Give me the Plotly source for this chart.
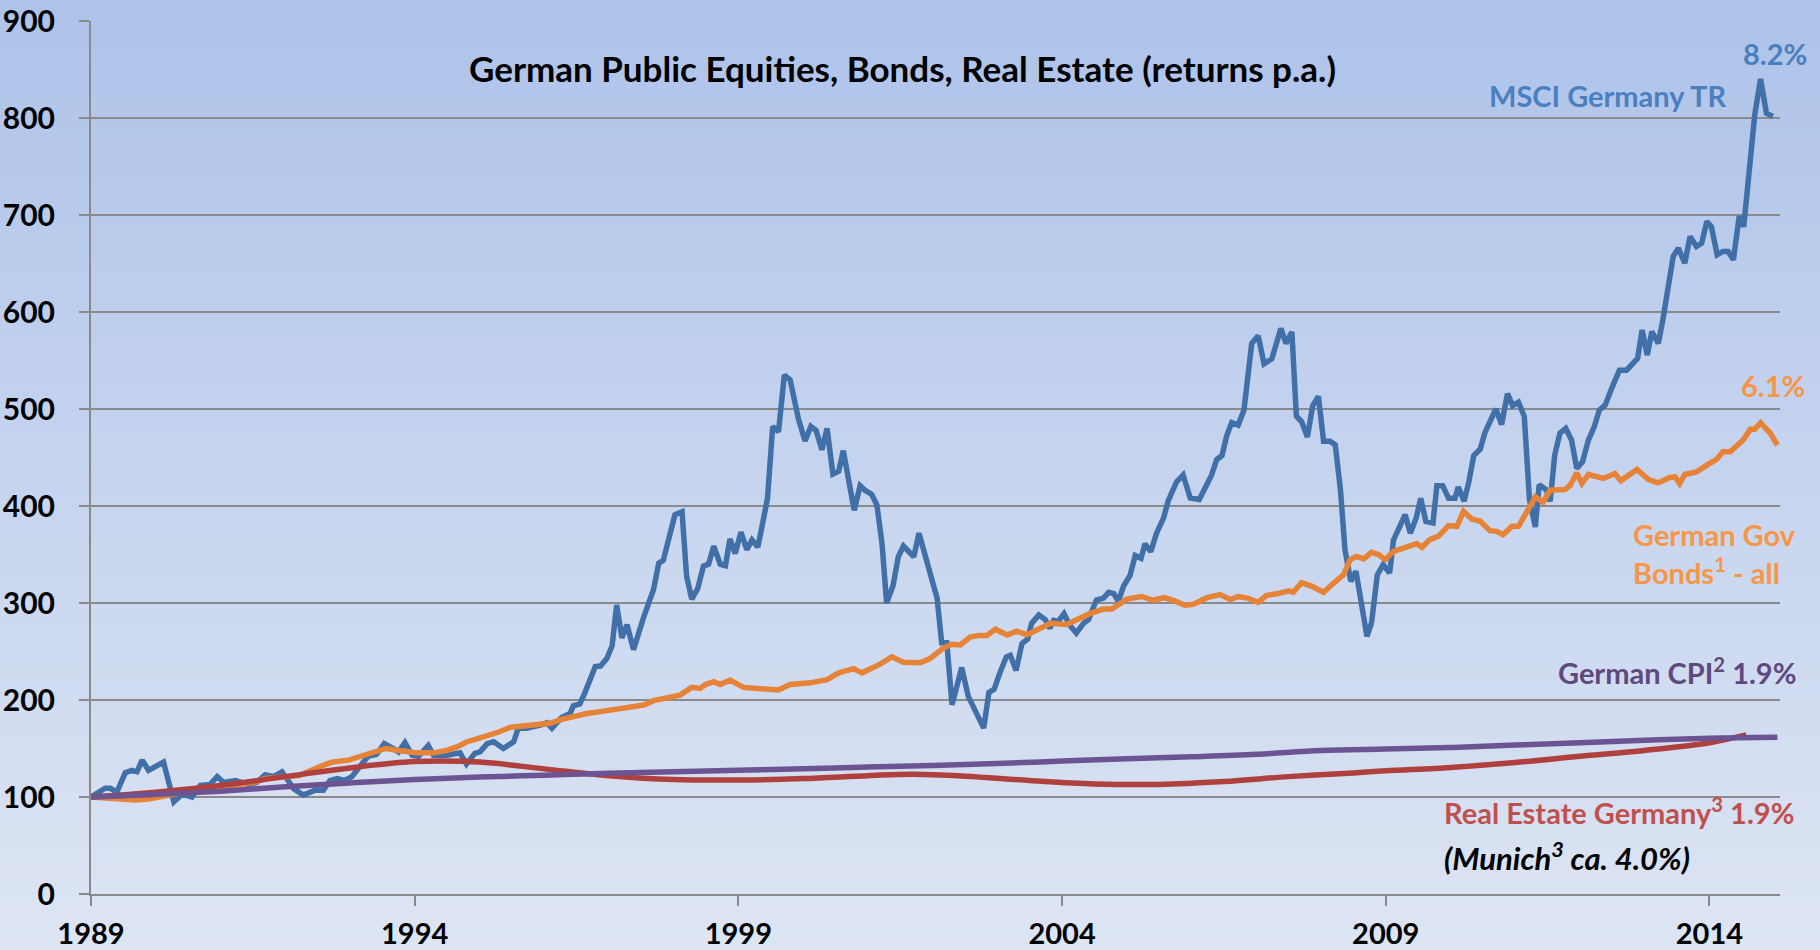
import plotly.graph_objects as go

# ---------------- data ----------------
msci_x = [1989.0, 1989.22, 1989.3, 1989.4, 1989.53, 1989.63, 1989.71, 1989.79, 1989.89, 1990.12,
          1990.28, 1990.41, 1990.56, 1990.69, 1990.84, 1990.95, 1991.05, 1991.23, 1991.43, 1991.56,
          1991.69, 1991.82, 1991.95, 1992.05, 1992.13, 1992.28, 1992.46, 1992.59, 1992.69, 1992.8,
          1992.92, 1993.03, 1993.16, 1993.28, 1993.41, 1993.53, 1993.67, 1993.75, 1993.85, 1993.96,
          1994.06, 1994.21, 1994.29, 1994.5, 1994.7, 1994.8, 1994.93, 1995.01, 1995.12, 1995.22,
          1995.37, 1995.53, 1995.6, 1995.73, 1995.94, 1996.04, 1996.12, 1996.27, 1996.4, 1996.45,
          1996.55, 1996.63, 1996.79, 1996.87, 1996.97, 1997.05, 1997.12, 1997.2, 1997.28, 1997.38,
          1997.54, 1997.61, 1997.69, 1997.77, 1997.84, 1998.02, 1998.13, 1998.2, 1998.28, 1998.37,
          1998.46, 1998.54, 1998.62, 1998.72, 1998.8, 1998.87, 1998.95, 1999.04, 1999.13, 1999.21,
          1999.3, 1999.36, 1999.45, 1999.53, 1999.62, 1999.71, 1999.8, 1999.93, 2000.03, 2000.12,
          2000.2, 2000.29, 2000.37, 2000.46, 2000.55, 2000.62, 2000.7, 2000.79, 2000.88, 2000.96,
          2001.06, 2001.14, 2001.22, 2001.29, 2001.39, 2001.47, 2001.55, 2001.71, 2001.79, 2001.86,
          2001.96, 2002.07, 2002.14, 2002.22, 2002.3, 2002.37, 2002.45, 2002.55, 2002.63, 2002.71,
          2002.79, 2002.87, 2002.95, 2003.04, 2003.14, 2003.2, 2003.29, 2003.38, 2003.47, 2003.53,
          2003.64, 2003.74, 2003.81, 2003.87, 2003.94, 2004.03, 2004.12, 2004.22, 2004.33, 2004.41,
          2004.53, 2004.64, 2004.72, 2004.8, 2004.87, 2004.95, 2005.05, 2005.13, 2005.22, 2005.28,
          2005.37, 2005.46, 2005.57, 2005.64, 2005.77, 2005.87, 2005.98, 2006.12, 2006.18, 2006.31,
          2006.39, 2006.47, 2006.54, 2006.62, 2006.72, 2006.81, 2006.93, 2007.03, 2007.12, 2007.24,
          2007.38, 2007.46, 2007.55, 2007.62, 2007.7, 2007.79, 2007.87, 2007.96, 2008.04, 2008.14,
          2008.22, 2008.3, 2008.37, 2008.46, 2008.54, 2008.63, 2008.71, 2008.78, 2008.87, 2008.96,
          2009.06, 2009.12, 2009.2, 2009.3, 2009.38, 2009.47, 2009.54, 2009.62, 2009.73, 2009.79,
          2009.88, 2009.97, 2010.07, 2010.12, 2010.21, 2010.28, 2010.36, 2010.46, 2010.53, 2010.61,
          2010.7, 2010.79, 2010.88, 2010.96, 2011.05, 2011.14, 2011.22, 2011.31, 2011.37, 2011.48,
          2011.54, 2011.61, 2011.69, 2011.78, 2011.87, 2011.95, 2012.04, 2012.13, 2012.22, 2012.3,
          2012.39, 2012.49, 2012.61, 2012.72, 2012.82, 2012.89, 2012.96, 2013.04, 2013.11, 2013.21,
          2013.28, 2013.35, 2013.44, 2013.52, 2013.62, 2013.7, 2013.8, 2013.88, 2013.96, 2014.03,
          2014.12, 2014.21, 2014.29, 2014.37, 2014.46, 2014.53, 2014.62, 2014.7, 2014.79, 2014.88,
          2014.98]
msci_y = [100, 109, 109, 105, 125, 127.5, 126, 138, 127.5, 136,
          95, 103, 100, 112, 113, 121, 115, 117, 113, 115,
          123, 121, 126, 117, 108.6, 102, 107, 107, 117, 119,
          117, 121, 133, 142, 144, 155, 150, 146.5, 156, 143,
          142, 153, 143, 143, 145.5, 134, 145, 146.5, 155, 157,
          150, 157, 171, 171, 174, 176.5, 171, 182, 186, 194,
          196, 207.6, 234.5, 235, 243, 256, 298, 264, 277.6, 252,
          286, 298, 314, 341, 344, 391, 394, 328, 304, 314.5,
          338, 340, 358.7, 340, 338.4, 366, 351, 373, 355, 365,
          357.6, 377, 408, 482, 476.5, 535, 530, 489, 467, 482,
          478, 458, 480, 433, 436, 457, 427, 395.5, 421, 416,
          412, 401, 360.5, 300, 318, 347.6, 358.7, 347.6, 372, 355,
          335, 305, 259, 259, 195, 215, 233.5, 204, 193, 180,
          171, 207.7, 211, 228, 244.5, 246, 230.5, 258, 263, 279,
          287.7, 283, 274, 282, 281, 289, 277, 269, 279, 283,
          303, 305, 311, 309.6, 301.6, 317.4, 328.5, 349, 346, 361,
          353, 372, 388, 405.5, 425, 432, 408.3, 406.7, 415.4, 432,
          448, 452, 471.5, 486, 483.4, 499, 567.6, 575.5, 546.6, 551.8,
          583, 567.6, 579.5, 492.5, 487, 471, 503, 513, 466.7, 466.7,
          463, 417, 355, 322.3, 332.7, 296.6, 265.6, 279.4, 329, 339.5,
          331, 365, 375.6, 391, 372, 387.6, 408, 384, 382.5, 421,
          421, 408, 408, 419.6, 405, 423.7, 452, 458.8, 475.3, 485.6,
          500, 484, 515.8, 503.4, 507, 492.5, 406.5, 378.3, 422, 416.8,
          404.8, 452.5, 475, 480, 468, 438.7, 445.6, 468, 481.7, 499,
          504, 521.3, 540, 540, 547, 552.2, 581.5, 555.6, 579.8, 567.7,
          591.8, 622.8, 657.2, 665.8, 650.3, 677.8, 667.5, 671, 693.3, 688,
          659, 662.4, 662.4, 653.7, 698.5, 688, 750, 803.4, 840.3, 805,
          801.7]

bonds_x = [1989.0, 1989.3, 1989.68, 1989.89, 1990.2, 1990.46, 1990.97, 1991.23, 1991.54, 1991.69,
           1992.0, 1992.21, 1992.52, 1992.72, 1992.98, 1993.29, 1993.55, 1993.78, 1994.03, 1994.29,
           1994.5, 1994.65, 1994.81, 1994.96, 1995.12, 1995.3, 1995.48, 1995.63, 1995.84, 1996.09,
           1996.27, 1996.45, 1996.66, 1996.87, 1997.07, 1997.33, 1997.54, 1997.69, 1997.9, 1998.1,
           1998.28, 1998.41, 1998.49, 1998.62, 1998.72, 1998.87, 1999.08, 1999.34, 1999.62, 1999.8,
           2000.11, 2000.37, 2000.55, 2000.78, 2000.91, 2001.19, 2001.37, 2001.55, 2001.81, 2001.96,
           2002.17, 2002.3, 2002.43, 2002.58, 2002.71, 2002.84, 2002.97, 2003.15, 2003.3, 2003.46,
           2003.66, 2003.82, 2004.07, 2004.23, 2004.43, 2004.64, 2004.77, 2005.0, 2005.23, 2005.41,
           2005.57, 2005.72, 2005.9, 2006.03, 2006.24, 2006.44, 2006.6, 2006.72, 2006.88, 2007.03,
           2007.16, 2007.32, 2007.5, 2007.57, 2007.7, 2007.86, 2008.04, 2008.17, 2008.35, 2008.45,
           2008.55, 2008.66, 2008.78, 2008.89, 2008.99, 2009.12, 2009.32, 2009.48, 2009.56, 2009.68,
           2009.81, 2009.97, 2010.1, 2010.2, 2010.33, 2010.46, 2010.61, 2010.71, 2010.81, 2010.95,
           2011.05, 2011.18, 2011.31, 2011.43, 2011.54, 2011.77, 2011.85, 2011.95, 2012.03, 2012.13,
           2012.36, 2012.54, 2012.63, 2012.88, 2013.06, 2013.21, 2013.39, 2013.47, 2013.54, 2013.62,
           2013.8, 2013.96, 2014.11, 2014.21, 2014.32, 2014.52, 2014.63, 2014.7, 2014.79, 2014.94,
           2015.05]
bonds_y = [100, 99, 97, 98, 102, 105, 110, 113, 115.5, 119,
           120.6, 122, 131, 136, 138, 144.7, 150, 147.6, 145.5, 145.5,
           148, 151.7, 157, 160, 162.8, 167, 172, 173, 174, 176,
           180, 183.4, 186, 188, 190.3, 192.4, 194.8, 199.3, 201.7, 205,
           213, 212, 216, 218.8, 216, 220.6, 213, 212, 210.3, 216,
           217.7, 221, 228, 232.4, 228, 237, 244.5, 239, 238.3, 242.7,
           253.8, 257.4, 256.7, 264.8, 266.6, 266.6, 273, 267, 271, 267.2,
           274, 279, 277.9, 283, 289, 293.7, 293.7, 304, 306.7, 302.8,
           305.5, 302.8, 297.6, 298.8, 305.5, 308.7, 303.6, 306.7, 304.8, 300.8,
           307.9, 309.5, 312.6, 311, 321, 317.2, 311, 319, 329.2, 344.7,
           348, 345.4, 352.2, 349.8, 344.7, 353.3, 357.4, 361.2, 357.4, 365.3,
           368.7, 379.7, 379, 394.5, 386.6, 384.2, 374.6, 373.9, 370.4, 379,
           379, 395.5, 409.3, 403.8, 416.2, 417, 421.5, 434.2, 423.2, 432.5,
           428.4, 433.5, 426, 437.6, 427.3, 423.9, 429.4, 430, 423.2, 432.5,
           435.2, 442.1, 448, 455.9, 455.9, 468, 479, 479, 485.8, 475,
           462.8]

cpi_x = [1989, 1990, 1991, 1992, 1993, 1994, 1995, 1996, 1997, 1998, 1999, 2000, 2001, 2002,
         2003, 2004, 2005, 2006, 2007, 2008, 2009, 2010, 2011, 2012, 2013, 2014, 2015.05]
cpi_y = [100, 102.7, 106, 110.5, 114.5, 118, 120.5, 122.5, 124.5, 126, 127.5, 129, 131, 132.5,
         134.5, 137, 139.5, 141.5, 144, 148, 149.5, 151, 153.5, 156, 158.5, 160.5, 161.5]

re_x = [1989, 1990, 1991, 1992, 1993, 1994, 1995, 1996, 1997, 1998, 1999, 2000, 2001, 2001.7,
        2002.5, 2003.5, 2004.5, 2005.5, 2006.5, 2007.5, 2008.5, 2009, 2010, 2011, 2012, 2013,
        2014, 2014.57]
re_y = [100, 105, 112, 121, 130, 136.5, 136, 129, 122, 118, 117.5, 119, 122, 123.5,
        121.5, 117, 113.5, 113, 116, 121, 124.8, 127, 130.5, 135.5, 142, 148, 156, 164]

year_ticks = [1989, 1994, 1999, 2004, 2009, 2014]

# ---------------- layout geometry ----------------
W, H = 1820, 950
L, R, T, B = 91, 40, 21, 56
PW, PH = W - L - R, H - T - B


def px(x, y):
    """pixel position on the page -> paper coordinates"""
    return (x - L) / PW, (H - B - y) / PH


FONT = "Lato, 'Open Sans', Arial, sans-serif"

fig = go.Figure()

fig.add_trace(go.Scatter(x=msci_x, y=msci_y, mode="lines",
                         line=dict(color="#4170A8", width=5.5), name="MSCI Germany TR"))
fig.add_trace(go.Scatter(x=bonds_x, y=bonds_y, mode="lines",
                         line=dict(color="#E68337", width=5.5), name="German Gov Bonds"))
fig.add_trace(go.Scatter(x=re_x, y=re_y, mode="lines",
                         line=dict(color="#AF403D", width=5.5, shape="spline"), name="Real Estate"))
fig.add_trace(go.Scatter(x=cpi_x, y=cpi_y, mode="lines",
                         line=dict(color="#6C5492", width=5.5, shape="spline"), name="CPI"))

# background gradient bands
shapes = []
top = (174, 195, 234)
bot = (221, 229, 243)
n = 95
for i in range(n):
    t = i / (n - 1)
    c = tuple(round(top[k] + (bot[k] - top[k]) * t) for k in range(3))
    y0 = i * H / n - 1
    y1 = (i + 1) * H / n + 1
    x0p, y0p = px(-2, y0)
    x1p, y1p = px(W + 2, y1)
    shapes.append(dict(type="rect", xref="paper", yref="paper", x0=x0p, x1=x1p, y0=y1p, y1=y0p,
                       fillcolor="rgb(%d,%d,%d)" % c, line=dict(width=0), layer="below"))


def ann(text, x, y, color, xanchor="center", size=29, style="normal"):
    xp, yp = px(x, y)
    return dict(text=text, x=xp, y=yp, xref="paper", yref="paper", showarrow=False,
                xanchor=xanchor, yanchor="middle", align="left",
                font=dict(family=FONT, size=size, color=color, weight="bold", style=style))


annotations = [
    ann("German Public Equities, Bonds, Real Estate (returns p.a.)", 902, 68, "black", size=35),
    ann("8.2%", 1775, 54, "#4A7FC0"),
    ann("MSCI Germany TR", 1728, 95.5, "#4A7FC0", xanchor="right"),
    ann("6.1%", 1773, 386, "#F79646"),
    ann("German Gov<br>Bonds<sup>1</sup> - all", 1631, 553, "#F79646", xanchor="left"),
    ann("German CPI<sup>2</sup> 1.9%", 1798, 671, "#5F4A80", xanchor="right"),
    ann("Real Estate Germany<sup>3</sup> 1.9%", 1442, 811, "#C0504D", xanchor="left"),
    ann("(Munich<sup>3</sup> ca. 4.0%)", 1442, 856, "black", xanchor="left", size=31, style="italic"),
]

fig.update_layout(
    width=W, height=H,
    margin=dict(l=L, r=R, t=T, b=B, pad=0, autoexpand=False),
    paper_bgcolor="rgb(200,212,238)",
    plot_bgcolor="rgba(0,0,0,0)",
    showlegend=False,
    shapes=shapes,
    annotations=annotations,
    xaxis=dict(range=[1989, 2015.09], tickmode="array", tickvals=year_ticks,
               ticktext=[str(v) for v in year_ticks], automargin=False,
               showgrid=False, zeroline=False, showline=True, linecolor="#8A8A8A", linewidth=2,
               ticks="outside", ticklen=10, tickwidth=2, tickcolor="#8A8A8A",
               ticklabelstandoff=3,
               tickfont=dict(family=FONT, size=29, color="black", weight="bold")),
    yaxis=dict(range=[0, 900], tickmode="linear", tick0=0, dtick=100, automargin=False,
               showgrid=True, gridcolor="#8A8A8A", gridwidth=1.5, zeroline=False,
               showline=True, linecolor="#8A8A8A", linewidth=2,
               ticks="outside", ticklen=10, tickwidth=2, tickcolor="#8A8A8A",
               ticklabelstandoff=18,
               tickfont=dict(family=FONT, size=30, color="black", weight="bold")),
)

fig.write_html("out.html", config={"displayModeBar": False})

with open("out.html", "r", encoding="utf-8") as f:
    html = f.read()
html = html.replace("<head>", "<head><style>html,body{margin:0;padding:0;overflow:hidden;}</style>", 1)
with open("out.html", "w", encoding="utf-8") as f:
    f.write(html)
